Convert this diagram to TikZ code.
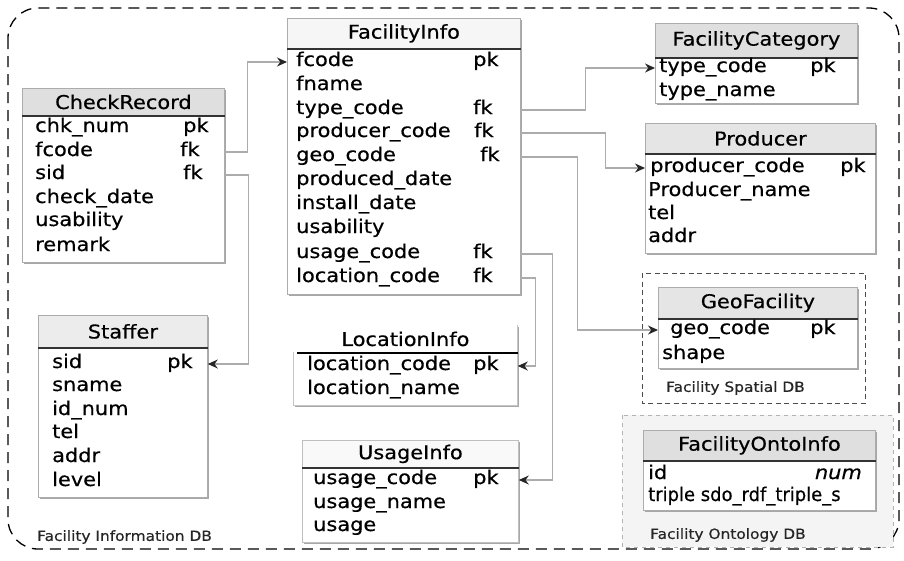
\documentclass[tikz,border=0pt]{standalone}
\usepackage{fontspec}
\usepackage{graphicx}
\setmainfont{DejaVu Sans}[FakeStretch=1.1, FakeBold=0.5]
\usetikzlibrary{shadows,arrows.meta}
\newcommand\rowfont{\fontsize{19pt}{22pt}\selectfont}
\newcommand\ttlfont{\fontsize{19pt}{22pt}\selectfont}
\newcommand\dbfont{\fontsize{14pt}{16pt}\selectfont}
\begin{document}
\begin{tikzpicture}[x=1pt,y=-1pt,
  tbl/.style={draw=gray!65, fill=white, line width=0.8pt, inner sep=0pt, anchor=north west,
    drop shadow={shadow xshift=1.8pt, shadow yshift=-1.8pt, fill=gray!75, opacity=0.9}},
  hdr/.style={fill=#1, draw=gray!65, line width=0.8pt, inner sep=0pt, anchor=north west, font=\ttlfont},
  divider/.style={line width=1.4pt, black!80},
  fld/.style={anchor=west, inner sep=0pt, text height=12pt, text depth=4pt, font=\rowfont},
  kfld/.style={anchor=west, inner sep=0pt, text height=12pt, text depth=4pt, font=\rowfont},
  dblabel/.style={anchor=west, inner sep=0pt, font=\dbfont, text=black!85},
  conn/.style={gray!65, line width=1.1pt, -{Stealth[length=10pt,width=9pt,color=gray!30!black]}},
  frame/.style={line width=1.3pt, dash pattern=on 11pt off 7pt, rounded corners=30pt}
]
\useasboundingbox (0,0) rectangle (904,560);

% outer frame
\draw[frame] (8,8) rectangle (899,549);

% containers
\draw[dash pattern=on 5pt off 3.5pt, line width=1pt, black!70] (642,273) rectangle (865,403);
\draw[fill=gray!9, draw=gray!60, dash pattern=on 4pt off 4pt, line width=0.8pt] (622,415) rectangle (893,547);

% CheckRecord
\node[tbl, minimum width=202pt, minimum height=174pt] (cr) at (22,88) {};
\node[hdr=gray!25, minimum width=202pt, minimum height=27pt] (crh) at (22,88) {CheckRecord};
\draw[divider] (crh.south west) -- (crh.south east);
\node[fld] (crn) at (35,128) {chk\_num};
\node[kfld] (crnk) at (183,128) {pk};
\node[fld] (crf) at (35,152) {fcode};
\node[kfld] (crfk) at (180,152) {fk};
\node[fld] (crs) at (35,175) {sid};
\node[kfld] (crsk) at (183,175) {fk};
\node[fld] (crd) at (35,199) {check\_date};
\node[fld] (cru) at (35,222) {usability};
\node[fld] (crr) at (35,247) {remark};

% FacilityInfo
\node[tbl, minimum width=233pt, minimum height=276pt] (fi) at (287,18) {};
\node[hdr=gray!7, minimum width=233pt, minimum height=30pt] (fih) at (287,18) {FacilityInfo};
\draw[divider] (fih.south west) -- (fih.south east);
\node[fld] (fif) at (296,62) {fcode};
\node[kfld] (fifk) at (473,62) {pk};
\node[fld] (fin) at (296,86) {fname};
\node[fld] (fit) at (296,110) {type\_code};
\node[kfld] (fitk) at (473,110) {fk};
\node[fld] (fip) at (296,133) {producer\_code};
\node[kfld] (fipk) at (474,133) {fk};
\node[fld] (fig) at (296,157) {geo\_code};
\node[kfld] (figk) at (480,157) {fk};
\node[fld] (fid) at (296,181) {produced\_date};
\node[fld] (fii) at (296,205) {install\_date};
\node[fld] (fiy) at (296,229) {usability};
\node[fld] (fiu) at (296,254) {usage\_code};
\node[kfld] (fiuk) at (473,254) {fk};
\node[fld] (fil) at (296,278) {location\_code};
\node[kfld] (filk) at (473,278) {fk};

% FacilityCategory
\node[tbl, minimum width=202pt, minimum height=80pt] (fc) at (655,23) {};
\node[hdr=gray!25, minimum width=202pt, minimum height=34pt] (fch) at (655,23) {FacilityCategory};
\draw[divider] (fch.south west) -- (fch.south east);
\node[fld] (fct) at (659,68) {type\_code};
\node[kfld] (fctk) at (810,68) {pk};
\node[fld] (fcn) at (659,92) {type\_name};

% Producer
\node[tbl, minimum width=230pt, minimum height=130pt] (pr) at (645,123) {};
\node[hdr=gray!20, minimum width=230pt, minimum height=30pt] (prh) at (645,123) {Producer};
\draw[divider] (prh.south west) -- (prh.south east);
\node[fld] (prc) at (650,168) {producer\_code};
\node[kfld] (prck) at (840,168) {pk};
\node[fld] (prn) at (648,192) {Producer\_name};
\node[fld] (prt) at (648,215) {tel};
\node[fld] (pra) at (648,238) {addr};

% GeoFacility
\node[tbl, minimum width=199pt, minimum height=81pt] (gf) at (658,287) {};
\node[hdr=gray!20, minimum width=199pt, minimum height=31pt] (gfh) at (658,287) {GeoFacility};
\draw[divider] (gfh.south west) -- (gfh.south east);
\node[fld] (gfc) at (670,330) {geo\_code};
\node[kfld] (gfck) at (810,330) {pk};
\node[fld] (gfs) at (662,355) {shape};
\node[dblabel] (sdb) at (666,388) {Facility Spatial DB};

% FacilityOntoInfo
\node[tbl, minimum width=232pt, minimum height=80pt] (fo) at (643,430) {};
\node[hdr=gray!25, minimum width=232pt, minimum height=30pt] (foh) at (643,430) {FacilityOntoInfo};
\draw[divider] (foh.south west) -- (foh.south east);
\node[fld] (foi) at (648,475) {id};
\node[kfld, anchor=east] (foik) at (862,475) {\itshape num};
\node[fld] (fot) at (648,497) {\scalebox{0.86}[1]{triple sdo\_rdf\_triple\_s}};
\node[dblabel] (odb) at (650,535) {Facility Ontology DB};

% Staffer
\node[tbl, minimum width=169pt, minimum height=182pt] (st) at (38,315) {};
\node[hdr=gray!15, minimum width=169pt, minimum height=32pt] (sth) at (38,315) {Staffer};
\draw[divider] (sth.south west) -- (sth.south east);
\node[fld] (sts) at (52,364) {sid};
\node[kfld] (stsk) at (167,364) {pk};
\node[fld] (stn) at (52,387) {sname};
\node[fld] (sti) at (52,411) {id\_num};
\node[fld] (stt) at (52,434) {tel};
\node[fld] (sta) at (52,458) {addr};
\node[fld] (stl) at (52,482) {level};

% LocationInfo
\node[tbl, draw=gray!45, minimum width=224pt, minimum height=80pt, drop shadow={shadow xshift=1pt, shadow yshift=-1pt, fill=gray!40}] (li) at (293,325) {};
\node[hdr=white, draw=none, minimum width=224pt, minimum height=27pt] (lih) at (293,325) {LocationInfo};
\draw[line width=2pt, black] ([xshift=4pt]lih.south west) -- (lih.south east);
\node[fld] (lic) at (307,366) {location\_code};
\node[kfld] (lick) at (473,366) {pk};
\node[fld] (lin) at (307,390) {location\_name};

% UsageInfo
\node[tbl, draw=gray!50, minimum width=216pt, minimum height=102pt, drop shadow={shadow xshift=1pt, shadow yshift=-1pt, fill=gray!45}] (ui) at (302,440) {};
\node[hdr=gray!5, draw=gray!50, minimum width=216pt, minimum height=27pt] (uih) at (302,440) {UsageInfo};
\draw[divider] (uih.south west) -- (uih.south east);
\node[fld] (uic) at (313,480) {usage\_code};
\node[kfld] (uick) at (473,480) {pk};
\node[fld] (uin) at (313,504) {usage\_name};
\node[fld] (uiu) at (313,527) {usage};

\node[dblabel] (idb) at (37,537) {Facility Information DB};

% connectors
\draw[conn] (cr.east |- crf) -- ++(23,0) |- (fi.west |- fif);
\draw[conn] (cr.east |- crs) -- ++(24,0) |- (st.east |- sts);
\draw[conn] (fi.east |- fit) -- ++(65,0) |- (fc.west |- fct);
\draw[conn] (fi.east |- fip) -- ++(85,0) |- (pr.west |- prc);
\draw[conn] (fi.east |- fig) -- ++(57,0) |- (gf.west |- gfc);
\draw[conn] (fi.east |- fiu) -- ++(32,0) |- (ui.east |- uic);
\draw[conn] (fi.east |- fil) -- ++(15,0) |- (li.east |- lic);
\end{tikzpicture}
\end{document}
